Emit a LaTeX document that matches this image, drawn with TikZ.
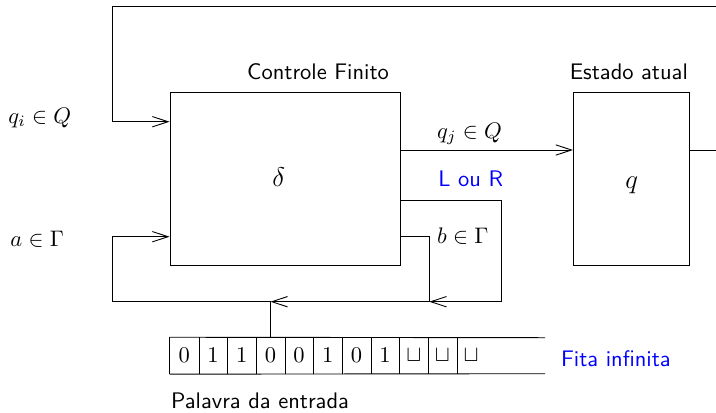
\documentclass[tikz,border=0pt]{standalone}
\usetikzlibrary{arrows.meta}
\definecolor{myblue}{RGB}{0,0,255}
\begin{document}
\begin{tikzpicture}[x=0.4444pt,y=-0.4444pt,
  ar/.style={-{Straight Barb[length=7pt,width=4.6pt]}},
  box/.style={draw,inner sep=0pt,minimum height=76.7pt},
  cell/.style={inner sep=0pt,minimum width=12.75pt,minimum height=16pt},
  lbl/.style={anchor=base west,inner sep=0pt},
  sflbl/.style={lbl,font=\sffamily},
  blu/.style={text=myblue}]
\useasboundingbox (0,0) rectangle (716,412);
\clip (0,0) rectangle (716,412);
% boxes
\node[box,minimum width=102.5pt] (C) at (285.3,179) {};
\node[box,minimum width=51.4pt] (S) at (631.2,179) {};
\node[anchor=base,inner sep=0pt,font=\large] (delta) at (278.7,186.7) {$\delta$};
\node[anchor=base,inner sep=0pt,font=\large] (qs) at (631.7,188.3) {$q$};
% labels
\node[sflbl] (lctl) at (246.7,79.3) {Controle Finito};
\node[sflbl] (lest) at (569.3,79.3) {Estado atual};
\node[lbl] (lqi) at (8,123) {$q_i \in Q$};
\node[lbl] (la) at (10,246.5) {$a \in \Gamma$};
\node[lbl] (lqj) at (436.7,138) {$q_j \in Q$};
\node[sflbl,blu] (llr) at (438,186.7) {L ou R};
\node[lbl] (lb) at (436.7,243.5) {$b \in \Gamma$};
\node[sflbl,blu] (lfita) at (560.7,366.7) {Fita infinita};
\node[sflbl] (lpal) at (170.7,408) {Palavra da entrada};
% tape
\foreach \v [count=\i] in {0,1,1,0,0,1,0,1,\sqcup,\sqcup,\sqcup}
  \node[cell] (t\i) at ({170+(\i-0.5)*28.68},355.7) {$\v$};
\foreach \i in {1,...,10} \draw (t\i.north east) -- (t\i.south east);
\draw (t1.north west) -- (t1.south west);
\draw (t1.north west) -- (545,337.7);
\draw (t1.south west) -- (545,373.7);
% connectors
\draw[ar] (S.east |- 0,150) -- (730,150) -- (730,6) -| (112.7,121.7) -- (C.west |- 0,121.7);
\draw[ar] (C.east |- 0,150) -- (S.west |- 0,150);
\draw[ar] (C.east |- 0,200.7) -- (501.7,200.7) -- (501.7,301.7) -- (429.3,301.7);
\draw (C.east |- 0,236.7) -- (429.3,236.7) -- (429.3,301.7);
\draw[ar] (429.3,301.7) -- (t4.north |- 0,301.7);
\draw[ar] (t4.north) -- (t4.north |- 0,301.7) -- (112.3,301.7) -- (112.3,236.7) -- (C.west |- 0,236.7);
\end{tikzpicture}
\end{document}
